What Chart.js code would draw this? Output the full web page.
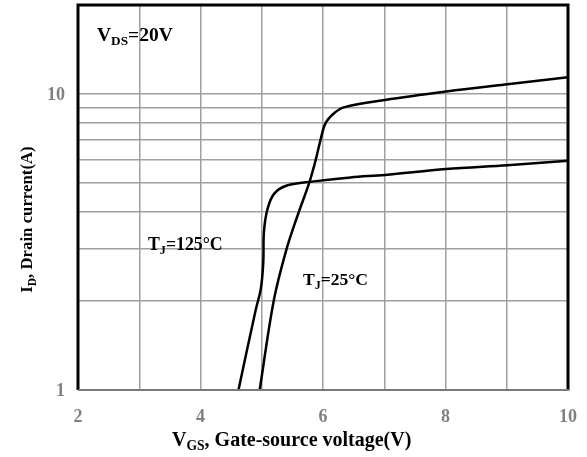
<!DOCTYPE html>
<html>
<head>
<meta charset="utf-8">
<script src="https://cdn.jsdelivr.net/npm/chart.js@4/dist/chart.umd.min.js"></script>
<style>
html,body{margin:0;padding:0;background:#fff;}
#wrap{width:587px;height:457px;position:relative;}
</style>
</head>
<body>
<div id="wrap"><canvas id="c" width="587" height="457"></canvas></div>
<script>
// Data
const vgs125 = [4.62, 4.90, 4.985, 5.025, 5.035, 5.09, 5.20, 5.40, 5.78, 6.45, 7.01, 8.01, 9.01, 10];
const id125  = [1.00, 1.86, 2.20, 2.70, 3.40, 4.06, 4.60, 4.90, 5.05, 5.23, 5.33, 5.58, 5.75, 5.95];
const vgs25  = [4.966, 5.195, 5.40, 5.578, 5.78, 5.88, 5.96, 6.04, 6.18, 6.34, 7.01, 8.01, 9.01, 10];
const id25   = [1.00, 2.00, 2.97, 3.85, 5.05, 5.98, 7.00, 7.96, 8.61, 9.02, 9.55, 10.2, 10.8, 11.4];
const yTicks = [1, 2, 3, 4, 5, 6, 7, 8, 9, 10, 20];
const yLabels = [1, 10];
const xLabels = [2, 4, 6, 8, 10];

const SERIF = '"Liberation Serif", "DejaVu Serif", serif';

function toXY(xs, ys){ return xs.map((x,i)=>({x:x, y:ys[i]})); }

function drawSub(ctx, parts, x, y, size){
  let cx = x;
  for (const [t, sub] of parts){
    const s = sub ? size*0.68 : size;
    ctx.font = 'bold ' + s + 'px ' + SERIF;
    ctx.fillText(t, cx, sub ? y + size*0.22 : y);
    cx += ctx.measureText(t).width;
  }
  return cx - x;
}
function measureSub(ctx, parts, size){
  let w = 0;
  for (const [t, sub] of parts){
    const s = sub ? size*0.68 : size;
    ctx.font = 'bold ' + s + 'px ' + SERIF;
    w += ctx.measureText(t).width;
  }
  return w;
}

const decor = {
  id: 'decor',
  afterDraw(chart){
    const ctx = chart.ctx, a = chart.chartArea;
    const xs = chart.scales.x, ys = chart.scales.y;
    ctx.save();
    // frame
    ctx.strokeStyle = '#000';
    ctx.lineWidth = 3;
    ctx.beginPath();
    ctx.moveTo(a.left, a.bottom);
    ctx.lineTo(a.left, a.top);
    ctx.lineTo(a.right, a.top);
    ctx.lineTo(a.right, a.bottom);
    ctx.stroke();
    ctx.strokeStyle = '#7a7a7a';
    ctx.lineWidth = 2;
    ctx.beginPath();
    ctx.moveTo(a.left, a.bottom);
    ctx.lineTo(a.right + 1.5, a.bottom);
    ctx.stroke();

    // tick labels
    ctx.fillStyle = '#808080';
    ctx.font = 'bold 18px ' + SERIF;
    ctx.textBaseline = 'middle';
    ctx.textAlign = 'center';
    for (const v of xLabels) ctx.fillText(String(v), xs.getPixelForValue(v), a.bottom + 27);
    ctx.textAlign = 'right';
    for (const v of yLabels) ctx.fillText(String(v), a.left - 13, ys.getPixelForValue(v) + 1);

    ctx.fillStyle = '#000';
    ctx.textBaseline = 'alphabetic';
    ctx.textAlign = 'left';
    // annotations
    drawSub(ctx, [['V',false],['DS',true],['=20V',false]], 97, 41, 19.5);
    drawSub(ctx, [['T',false],['J',true],['=125°C',false]], 148, 250, 17.8);
    drawSub(ctx, [['T',false],['J',true],['=25°C',false]], 303, 285, 17.6);

    // x title
    drawSub(ctx, [['V',false],['GS',true],[', Gate-source voltage(V)',false]], 172, 446, 20);
    // y title (rotated)
    const yp = [['I',false],['D',true],[', Drain current(A)',false]];
    const w = measureSub(ctx, yp, 16.8);
    ctx.translate(32, 219.5);
    ctx.rotate(-Math.PI/2);
    drawSub(ctx, yp, -w/2, 0, 16.8);
    ctx.restore();
  }
};

new Chart(document.getElementById('c'), {
  type: 'line',
  data: {
    datasets: [
      { label: 'TJ=125°C', data: toXY(vgs125, id125), borderColor: '#000', borderWidth: 2.5,
        pointRadius: 0, tension: 0.35, fill: false },
      { label: 'TJ=25°C', data: toXY(vgs25, id25), borderColor: '#000', borderWidth: 2.5,
        pointRadius: 0, tension: 0.35, fill: false }
    ]
  },
  options: {
    responsive: false,
    animation: false,
    events: [],
    layout: { padding: { left: 0, right: 19, top: 5, bottom: 0 } },
    plugins: { legend: { display: false }, tooltip: { enabled: false }, title: { display: false } },
    scales: {
      x: {
        type: 'linear', min: 2, max: 10,
        afterFit(s){ s.height = 67; },
        border: { display: false },
        grid: {
          drawTicks: false, tickLength: 0, lineWidth: 1.5,
          color: c => (c.tick && c.tick.value > 2 && c.tick.value < 10) ? '#a0a0a0' : 'rgba(0,0,0,0)'
        },
        ticks: { stepSize: 1, display: false }
      },
      y: {
        type: 'logarithmic', min: 1, max: 20,
        afterBuildTicks(s){ s.ticks = yTicks.map(v => ({ value: v })); },
        afterFit(s){ s.width = 78; },
        border: { display: false },
        grid: {
          drawTicks: false, tickLength: 0, lineWidth: 1.5,
          color: c => (c.tick && c.tick.value > 1 && c.tick.value <= 10) ? '#a0a0a0' : 'rgba(0,0,0,0)'
        },
        ticks: { display: false, autoSkip: false }
      }
    }
  },
  plugins: [decor]
});
</script>
</body>
</html>
